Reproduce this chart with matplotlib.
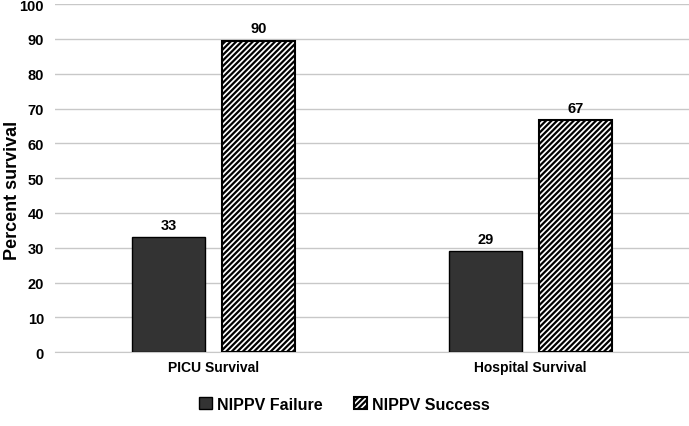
import matplotlib
matplotlib.use('Agg')
import matplotlib.pyplot as plt
import numpy as np

categories = ['PICU Survival', 'Hospital Survival']
failure = [33, 29]
success = [89.5, 66.7]
failure_labels = ['33', '29']
success_labels = ['90', '67']

plt.rcParams['font.family'] = ['Liberation Sans', 'DejaVu Sans']
plt.rcParams['font.weight'] = 'bold'
plt.rcParams['hatch.linewidth'] = 1.6

fig = plt.figure(figsize=(6.89, 4.27), dpi=100)
ax = fig.add_axes([0.080, 0.173, 0.92, 0.815])

x = np.arange(len(categories))
w = 0.23
off = 0.142
b1 = ax.bar(x - off, failure, w, color='#333333', edgecolor='black', linewidth=1.0,
            label='NIPPV Failure', zorder=3)
b2 = ax.bar(x + off, success, w, color='white', edgecolor='black', hatch='//////',
            linewidth=1.5, label='NIPPV Success', zorder=3)

for rect, lab in zip(b1, failure_labels):
    ax.text(rect.get_x() + rect.get_width() / 2, rect.get_height() + 1.5, lab,
            ha='center', va='bottom', fontsize=10.5, fontweight='bold')
for rect, lab in zip(b2, success_labels):
    ax.text(rect.get_x() + rect.get_width() / 2, rect.get_height() + 1.5, lab,
            ha='center', va='bottom', fontsize=10.5, fontweight='bold')

ax.set_xlim(-0.5, 1.5)
ax.set_ylim(0, 100)
ax.set_yticks(range(0, 101, 10))
ax.set_xticks(x)
ax.set_xticklabels(categories, fontsize=10, fontweight='bold')
ax.tick_params(axis='y', labelsize=10.5, length=0, pad=8)
ax.tick_params(axis='x', length=0, pad=6)
ax.grid(axis='y', color='#c8c8c8', linewidth=1.0, zorder=0)
for s in ['left', 'right', 'top']:
    ax.spines[s].set_visible(False)
ax.spines['bottom'].set_color('#c8c8c8')
ax.set_ylabel('Percent survival', fontsize=13, fontweight='bold')
ax.yaxis.set_label_coords(-0.054, 0.468)

fig.legend(handles=[b1, b2], loc='lower center', bbox_to_anchor=(0.5, 0.0), ncol=2,
           frameon=False, fontsize=11.5, handlelength=0.8, handleheight=0.8,
           handletextpad=0.3, columnspacing=2.0)

fig.savefig('out.png', dpi=100)
